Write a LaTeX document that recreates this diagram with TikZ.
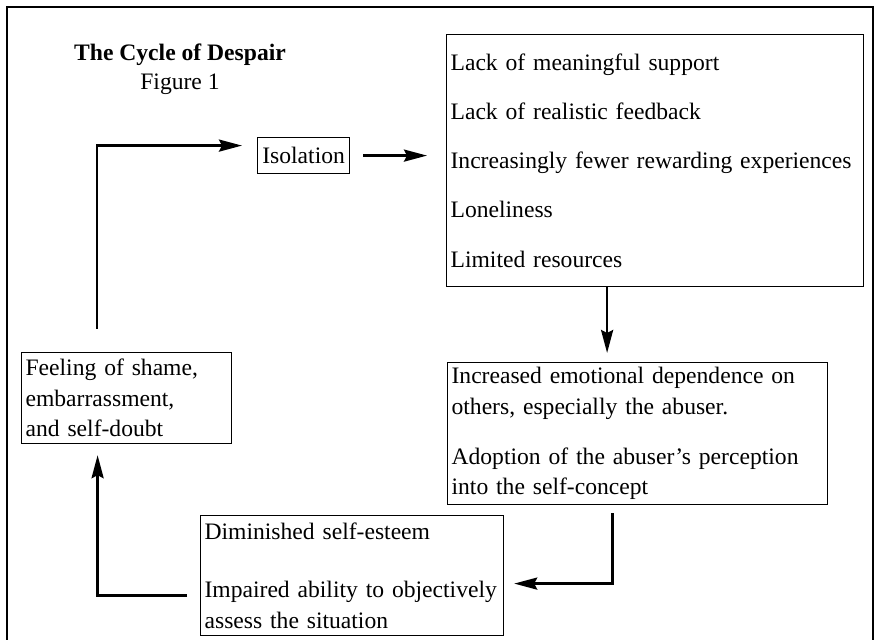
\documentclass[tikz,border=0pt]{standalone}
\usepackage{fontspec}
\setmainfont{Liberation Serif}
\usetikzlibrary{arrows.meta,calc}

\begin{document}
\begin{tikzpicture}[x=0.5pt, y=-0.5pt, font=\fontsize{11.8}{15.2}\selectfont,
  >={Stealth[length=11.5pt, width=6pt, inset=1.5pt]},
  stage/.style={draw, line width=0.6pt, anchor=north west, align=left, inner xsep=2pt, inner ysep=0pt},
  arr/.style={->, line width=1.35pt},
  frame/.style={line width=1pt},
]
\useasboundingbox (0,0) rectangle (877,640);
\draw[frame] (7,640) -- (7,7) -- (873,7) -- (873,640);

% ---------------- title ----------------
\node[font=\fontsize{11.8}{15.2}\selectfont\bfseries] (title) at (180,55) {The Cycle of Despair};
\node (fig) at (180,84) {Figure 1};

% ---------------- stages ----------------
\node[stage, inner xsep=1pt, minimum width=46pt, minimum height=18pt] (iso) at (257,137) {Isolation};
\node[stage, text width=204.5pt, minimum height=126pt] (lacks) at (446,34)
  {Lack of meaningful support\\[9.4pt]
   Lack of realistic feedback\\[9.4pt]
   Increasingly fewer rewarding experiences\\[9.4pt]
   Loneliness\\[9.4pt]
   Limited resources};
\node[stage, text width=186pt, minimum height=71pt] (dep) at (447,362)
  {Increased emotional dependence on\\
   others, especially the abuser.\\[10pt]
   Adoption of the abuser’s perception\\
   into the self-concept};
\node[stage, text width=147.5pt, minimum height=60pt] (esteem) at (200,515)
  {Diminished self-esteem\\[14pt]
   Impaired ability to objectively\\
   assess the situation};
\node[stage, text width=101pt, minimum height=45.5pt] (feel) at (21,352)
  {Feeling of shame,\\
   embarrassment,\\
   and self-doubt};

% ---------------- cycle ----------------
\draw[arr, shorten >=7.5pt] ($(feel.north west)+(76,-23)$) |- ([yshift=5pt]iso.west);
\draw[arr, shorten <=6.5pt, shorten >=9.5pt] (iso.east) -- (iso.east -| lacks.west);
\draw[arr, shorten >=4.5pt] ([xshift=-24pt]lacks.south) -- ([xshift=-24pt]lacks.south |- dep.north);
\draw[arr, shorten <=4pt, shorten >=5pt] ([xshift=-12.5pt]dep.south) |- ([yshift=-4pt]esteem.east);
\draw[arr, shorten <=6.5pt, shorten >=5.5pt] ([yshift=-10pt]esteem.west) -| ([xshift=-14.5pt]feel.south);
\end{tikzpicture}
\end{document}
